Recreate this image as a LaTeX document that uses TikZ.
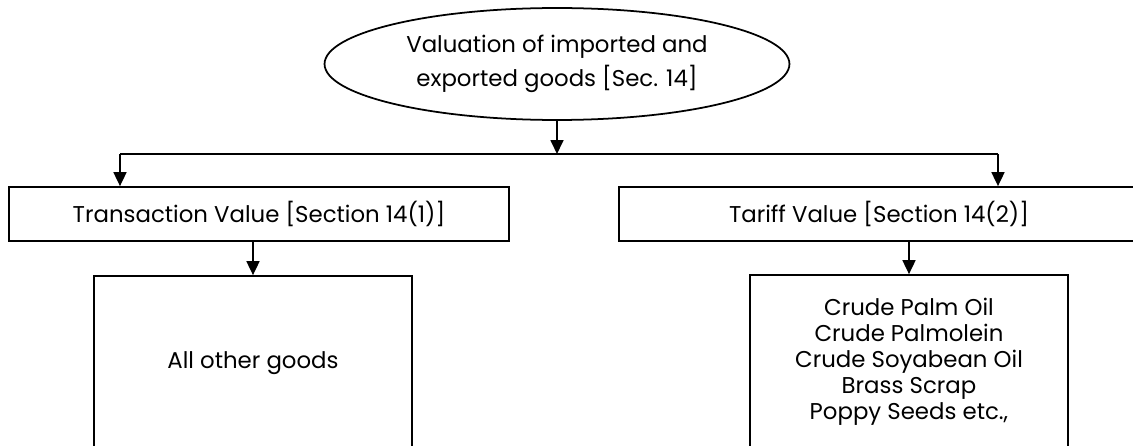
\documentclass[tikz,border=0pt]{standalone}
\usepackage{fontspec}
\setmainfont{Poppins}
\usetikzlibrary{arrows.meta,positioning,calc,shapes.geometric}

\begin{document}
\begin{tikzpicture}[x=0.02cm,y=-0.02cm,
      every node/.style={font=\fontsize{13}{14.8}\selectfont},
      oval/.style={draw, ellipse, line width=1pt, minimum width=9.3cm, minimum height=2.24cm, inner sep=0pt, align=center, font=\fontsize{13}{19.3}\selectfont},
      block/.style={draw, rectangle, line width=1pt, minimum height=1.08cm, align=center},
      goods/.style={draw, rectangle, line width=1pt, minimum width=6.36cm, minimum height=3.48cm, align=center},
      arr/.style={-{Triangle[length=0.28cm,width=0.26cm]}, line width=1pt}
    ]
    \useasboundingbox (0,0) rectangle (1133,446);
    \clip (0,0) rectangle (1133,446);

    \node[oval] (val) at (557,64) {Valuation of imported and\\exported goods [Sec. 14]};
    \node[block, minimum width=10cm] (trans) at (259,214) {Transaction Value [Section 14(1)]};
    \node[block, minimum width=10.4cm] (tariff) at (879,214) {Tariff Value [Section 14(2)]};
    \node[goods] (other) at (253,363) {All other goods};
    \node[goods] (listed) at (909,362) {Crude Palm Oil\\Crude Palmolein\\Crude Soyabean Oil\\Brass Scrap\\Poppy Seeds etc.,};

    \coordinate (jl) at (120,154);
    \coordinate (jr) at (998,154);

    \draw[arr] (val.south) -- (val.south |- jl);
    \draw[line width=1pt] (jl) -- (jr);
    \draw[arr] (jl) -- (jl |- trans.north);
    \draw[arr] (jr) -- (jr |- tariff.north);

    \draw[arr] (trans.south -| other.north) -- (other.north);
    \draw[arr] (tariff.south -| listed.north) -- (listed.north);
  \end{tikzpicture}
\end{document}
